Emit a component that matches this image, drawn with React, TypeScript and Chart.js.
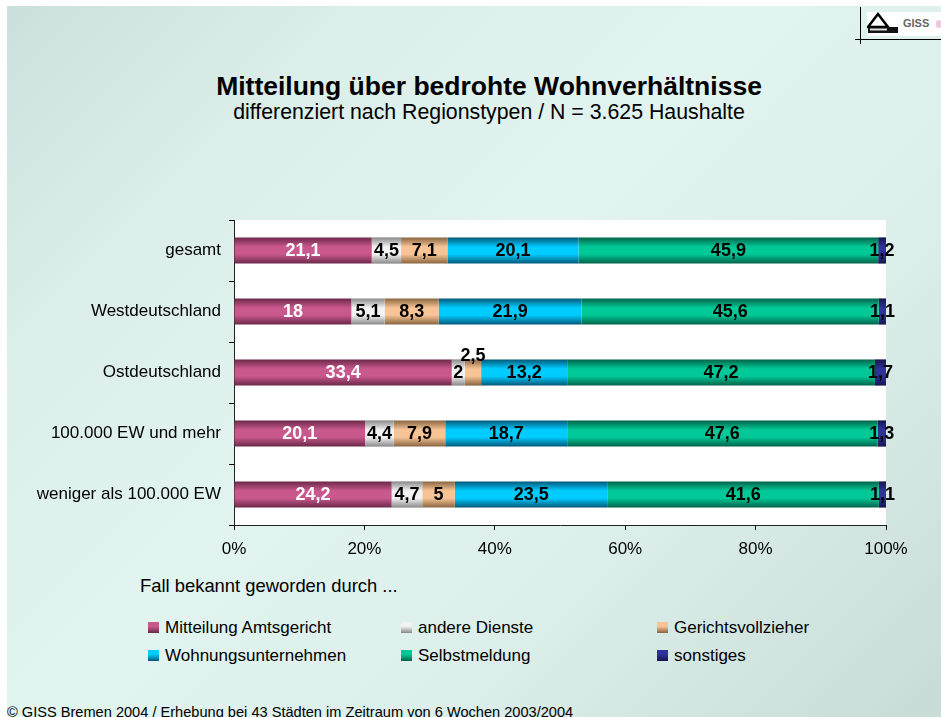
import React, { useEffect, useRef } from "react";
import { Chart, registerables } from "chart.js";

Chart.register(...registerables);

// ---------- data ----------
const categories = [
  "gesamt",
  "Westdeutschland",
  "Ostdeutschland",
  "100.000 EW und mehr",
  "weniger als 100.000 EW",
];
const seriesNames = [
  "Mitteilung Amtsgericht",
  "andere Dienste",
  "Gerichtsvollzieher",
  "Wohnungsunternehmen",
  "Selbstmeldung",
  "sonstiges",
];
const amtsgericht = [21.1, 18, 33.4, 20.1, 24.2];
const andereDienste = [4.5, 5.1, 2, 4.4, 4.7];
const gerichtsvollzieher = [7.1, 8.3, 2.5, 7.9, 5];
const wohnungsunternehmen = [20.1, 21.9, 13.2, 18.7, 23.5];
const selbstmeldung = [45.9, 45.6, 47.2, 47.6, 41.6];
const sonstiges = [1.2, 1.1, 1.7, 1.3, 1.1];
const xTickValues = [0, 20, 40, 60, 80, 100];

const seriesValues = [
  amtsgericht,
  andereDienste,
  gerichtsvollzieher,
  wohnungsunternehmen,
  selbstmeldung,
  sonstiges,
];

// ---------- styles ----------
const FONT = '"Liberation Sans", Arial, Helvetica, sans-serif';
const edgeColors = ["#6a2848", "#888888", "#87643f", "#005878", "#006249", "#16164a"];
const midColors = ["#c9588d", "#f2f2f2", "#f8c495", "#00ccff", "#00c997", "#2f3299"];
const labelColors = ["#ffffff", "#000000", "#000000", "#000000", "#000000", "#000000"];
// label that is drawn above its bar because the segment is too narrow
const liftedLabel = { series: 2, category: 2 };

const totals = categories.map((_, j) =>
  seriesValues.reduce((s, arr) => s + arr[j], 0)
);

const fmt = (v: number) => String(v).replace(".", ",");

const barGradient = (i: number) => (ctx: any) => {
  const chart = ctx.chart;
  const ys = chart.scales && chart.scales.y;
  if (!ys || ctx.type !== "data" || !chart.chartArea) return midColors[i];
  const yc = ys.getPixelForValue(ctx.dataIndex);
  const half = (ys.height / categories.length) * 0.43 / 2;
  const g = chart.ctx.createLinearGradient(0, yc - half, 0, yc + half);
  g.addColorStop(0, edgeColors[i]);
  g.addColorStop(0.36, midColors[i]);
  g.addColorStop(0.64, midColors[i]);
  g.addColorStop(1, edgeColors[i]);
  return g;
};

const plotBgPlugin = {
  id: "plotBg",
  beforeDraw(chart: any) {
    const { ctx, chartArea } = chart;
    if (!chartArea) return;
    ctx.save();
    ctx.fillStyle = "#ffffff";
    ctx.fillRect(chartArea.left, chartArea.top, chartArea.right - chartArea.left, chartArea.bottom - chartArea.top);
    ctx.restore();
  },
};

const valueLabelPlugin = {
  id: "valueLabels",
  afterDatasetsDraw(chart: any) {
    const { ctx } = chart;
    ctx.save();
    ctx.font = `bold 18px ${FONT}`;
    ctx.textAlign = "center";
    ctx.textBaseline = "middle";
    chart.data.datasets.forEach((ds: any, i: number) => {
      const meta = chart.getDatasetMeta(i);
      meta.data.forEach((bar: any, j: number) => {
        const p = bar.getProps(["x", "y", "base"], true);
        const cx = (p.x + p.base) / 2;
        let cy = p.y + 1;
        if (i === liftedLabel.series && j === liftedLabel.category) cy -= 17;
        ctx.fillStyle = labelColors[i];
        ctx.fillText(fmt(seriesValues[i][j]), cx, cy);
      });
    });
    ctx.restore();
  },
};

const legendBox = (i: number): React.CSSProperties => ({
  display: "inline-block",
  width: 11,
  height: 11,
  marginRight: 6,
  background: `linear-gradient(to bottom, ${midColors[i]} 0%, ${midColors[i]} 40%, ${edgeColors[i]} 100%)`,
});

export default function App() {
  const canvasRef = useRef<HTMLCanvasElement | null>(null);

  useEffect(() => {
    document.body.style.margin = "0";
    const canvas = canvasRef.current;
    if (!canvas) return;
    const chart = new Chart(canvas, {
      type: "bar",
      data: {
        labels: categories,
        datasets: seriesNames.map((name, i) => ({
          label: name,
          data: seriesValues[i].map((v, j) => (v / totals[j]) * 100),
          backgroundColor: barGradient(i),
          borderWidth: 0,
          barPercentage: 0.43,
          categoryPercentage: 1,
        })),
      },
      options: {
        indexAxis: "y",
        animation: false,
        responsive: false,
        maintainAspectRatio: false,
        layout: { padding: { top: 20, right: 55, left: 0, bottom: 0 } },
        plugins: {
          legend: { display: false },
          tooltip: { enabled: false },
          title: { display: false },
        },
        scales: {
          x: {
            type: "linear",
            stacked: true,
            min: 0,
            max: 100,
            afterBuildTicks: (s: any) => {
              s.ticks = xTickValues.map((v) => ({ value: v }));
            },
            afterFit: (s: any) => {
              s.height = 40;
            },
            grid: { drawOnChartArea: false, drawTicks: true, tickLength: 5, color: "#000" },
            border: { display: true, color: "#222", width: 1 },
            ticks: {
              color: "#000",
              font: { family: FONT, size: 17 },
              padding: 9,
              autoSkip: false,
              maxRotation: 0,
              callback: (v: any) => `${v}%`,
            },
          },
          y: {
            stacked: true,
            afterFit: (s: any) => {
              s.width = 234;
            },
            grid: { drawOnChartArea: false, drawTicks: true, tickLength: 5, color: "#000", offset: true },
            border: { display: true, color: "#222", width: 1 },
            ticks: {
              color: "#000",
              font: { family: FONT, size: 17 },
              padding: 8,
              autoSkip: false,
            },
          },
        },
      },
      plugins: [plotBgPlugin, valueLabelPlugin],
    } as any);
    return () => chart.destroy();
  }, []);

  const legendCols = [148, 401, 657];
  const legendRows = [619, 647];

  return (
    <div style={{ position: "relative", width: 941, height: 717, overflow: "hidden", background: "#ffffff", fontFamily: FONT }}>
      <div
        style={{
          position: "absolute",
          left: 7,
          top: 6,
          width: 934,
          height: 711,
          background: "linear-gradient(135deg, #cbe0dc 0%, #dbeeea 22%, #e1f4f0 45%, #dcefeb 68%, #c8dbd7 100%)",
        }}
      />
      {/* logo */}
      <div style={{ position: "absolute", left: 860, top: 7, width: 1, height: 37, background: "#000" }} />
      <div style={{ position: "absolute", left: 855, top: 39, width: 86, height: 1, background: "#000" }} />
      <div style={{ position: "absolute", left: 867, top: 12, width: 74, height: 24, background: "#ffffff" }}>
        <svg width="74" height="24" style={{ position: "absolute", left: 0, top: 0 }}>
          <polygon points="11,2 1,15 21,15" fill="none" stroke="#000" strokeWidth="2.5" />
          <rect x="1" y="15" width="30" height="6" fill="#111" />
          <rect x="3" y="16.5" width="17" height="2" fill="#ddd" />
        </svg>
        <div style={{ position: "absolute", left: 36, top: 5, fontSize: 11, fontWeight: "bold", color: "#666", lineHeight: "13px" }}>
          GISS
        </div>
        <div style={{ position: "absolute", left: 69, top: 8, width: 5, height: 8, background: "#f0c8dc", borderRadius: 3 }} />
      </div>

      {/* titles */}
      <div style={{ position: "absolute", left: 189, top: 73, width: 600, textAlign: "center", fontSize: 26.5, lineHeight: "26px", fontWeight: "bold", color: "#000" }}>
        Mitteilung über bedrohte Wohnverhältnisse
      </div>
      <div style={{ position: "absolute", left: 189, top: 102, width: 600, textAlign: "center", fontSize: 21.3, lineHeight: "21px", color: "#000" }}>
        differenziert nach Regionstypen / N = 3.625 Haushalte
      </div>

      <canvas
        ref={canvasRef}
        width={941}
        height={365}
        style={{ position: "absolute", left: 0, top: 200, width: 941, height: 365 }}
      />

      <div style={{ position: "absolute", left: 140, top: 577, fontSize: 18.4, lineHeight: "18px", color: "#000", whiteSpace: "nowrap" }}>
        Fall bekannt geworden durch ...
      </div>

      {seriesNames.map((name, i) => (
        <div
          key={name}
          style={{
            position: "absolute",
            left: legendCols[i % 3],
            top: legendRows[Math.floor(i / 3)],
            fontSize: 17,
            lineHeight: "17px",
            height: 17,
            display: "flex",
            alignItems: "center",
            color: "#000",
            whiteSpace: "nowrap",
          }}
        >
          <span style={legendBox(i)} />
          <span>{name}</span>
        </div>
      ))}

      <div style={{ position: "absolute", left: 7, top: 705, fontSize: 14.6, lineHeight: "15px", color: "#000", whiteSpace: "nowrap" }}>
        © GISS Bremen 2004 / Erhebung bei 43 Städten im Zeitraum von 6 Wochen 2003/2004
      </div>
    </div>
  );
}
